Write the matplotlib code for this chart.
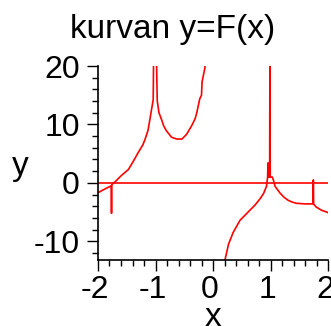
import matplotlib
matplotlib.use("Agg")
import matplotlib.pyplot as plt
import matplotlib.transforms as mtransforms
from matplotlib.ticker import MultipleLocator

# ---- data (Maple-style plot of F(x)) ----
# left branch, x in [-2, -0.12]  (spike artefacts near x=-1.76 and x=-1)
left_x = [-2.00, -1.93, -1.85, -1.77, -1.765, -1.76, -1.70, -1.60, -1.47,
          -1.38, -1.30, -1.22, -1.18, -1.13, -1.10, -1.07, -1.04, -1.03,
          -0.99, -0.97, -0.94, -0.89, -0.86, -0.81, -0.72, -0.63, -0.54,
          -0.46, -0.37, -0.31, -0.28, -0.23, -0.20, -0.19, -0.14, -0.12]
left_y = [-1.7, -1.3, -0.9, -0.5, -5.2, -0.3, 0.2, 1.2, 2.3,
          3.8, 5.2, 6.5, 7.5, 9.0, 10.7, 12.5, 14.2, 25.0,
          25.0, 14.1, 12.0, 10.7, 9.8, 8.9, 7.8, 7.5, 7.5,
          8.3, 9.8, 11.0, 12.1, 14.4, 15.0, 17.3, 19.7, 25.0]

# right branch, x in [0.2, 2]  (spike at x=1, jump artefact at x=1.745)
right_x = [0.20, 0.21, 0.27, 0.35, 0.47, 0.56, 0.64, 0.73, 0.82, 0.88,
           0.93, 0.95, 0.955, 0.965, 0.97, 0.985, 0.99, 0.995, 1.00, 1.03,
           1.05, 1.08, 1.17, 1.24, 1.31, 1.38, 1.455, 1.60, 1.74, 1.745,
           1.75, 1.79, 1.89, 1.98, 2.00]
right_y = [-14.0, -13.1, -10.5, -8.5, -6.4, -5.5, -4.7, -3.8, -2.7, -1.8,
           -0.6, 1.0, 3.4, 3.4, 1.0, 1.0, 25.0, 1.0, 1.0, 1.0,
           0.5, -0.6, -1.8, -2.5, -3.0, -3.3, -3.5, -3.6, -3.6, 0.5,
           -3.6, -4.1, -4.7, -5.0, -5.1]

# reference line y = 0
zero_x = [-2.0, 2.0]
zero_y = [0.0, 0.0]

title = "kurvan y=F(x)"
x_name = "x"
y_name = "y"

plt.rcParams["font.family"] = ["Liberation Sans", "DejaVu Sans"]
plt.rcParams["axes.unicode_minus"] = False

W, H = 331, 326
fig = plt.figure(figsize=(W / 100, H / 100), dpi=100)
ax = fig.add_axes([98 / W, 1 - 260 / H, 230 / W, 194 / H])

red = "#ff0000"
ax.plot(zero_x, zero_y, color=red, lw=1.2)
ax.plot(left_x, left_y, color=red, lw=1.2)
ax.plot(right_x, right_y, color=red, lw=1.2)

ax.set_xlim(-2.0, 2.0)
ax.set_ylim(-13.2, 20.0)

for side in ("top", "right"):
    ax.spines[side].set_visible(False)
for side in ("left", "bottom"):
    ax.spines[side].set_linewidth(1.2)

ax.xaxis.set_major_locator(MultipleLocator(1))
ax.xaxis.set_minor_locator(MultipleLocator(0.2))
ax.yaxis.set_major_locator(MultipleLocator(10))
ax.yaxis.set_minor_locator(MultipleLocator(2))
ax.tick_params(which="major", direction="out", length=8, width=1,
               labelsize=23)
ax.tick_params(which="minor", direction="out", length=4, width=1)
ax.tick_params(axis="y", which="major", pad=5)
ax.tick_params(axis="x", which="major", pad=3)

# Maple puts the x labels a touch left of their ticks, and the first one inside
shift = mtransforms.ScaledTranslation(-3 / 100, 0, fig.dpi_scale_trans)
for lab in ax.xaxis.get_majorticklabels():
    lab.set_transform(lab.get_transform() + shift)
ax.xaxis.get_majorticklabels()[0].set_horizontalalignment("left")

fig.text(173 / W, 1 - 38 / H, title, ha="center", va="baseline", fontsize=24)
fig.text(20 / W, 1 - 175 / H, y_name, ha="center", va="baseline", fontsize=24)
fig.text(213 / W, 1 - 326 / H, x_name, ha="center", va="baseline", fontsize=24)

fig.savefig("out.png", dpi=100)
